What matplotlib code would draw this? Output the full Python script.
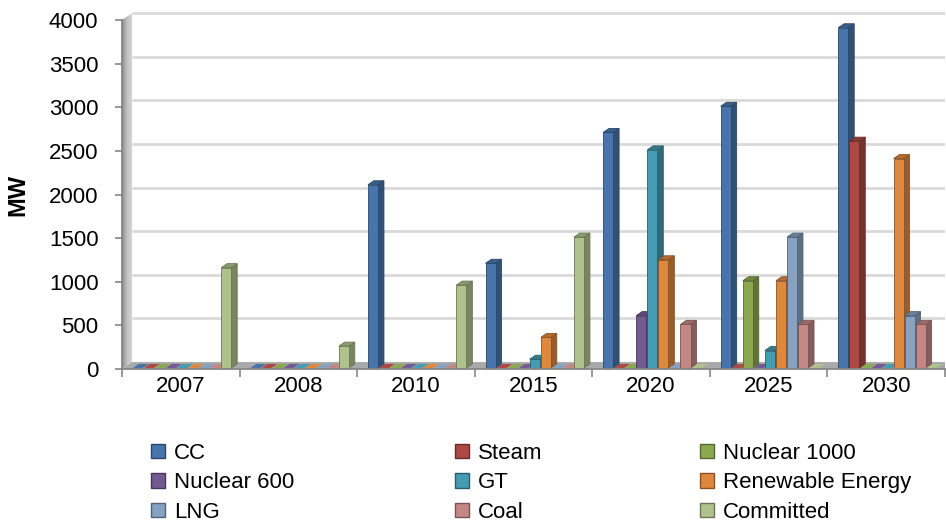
import numpy as np
import matplotlib
matplotlib.use("Agg")
import matplotlib.pyplot as plt
from matplotlib.patches import Polygon, Patch
from matplotlib.colors import to_rgb, LinearSegmentedColormap

years = ["2007", "2008", "2010", "2015", "2020", "2025", "2030"]
series = ["CC", "Steam", "Nuclear 1000", "Nuclear 600", "GT",
          "Renewable Energy", "LNG", "Coal", "Committed"]

cc = [0, 0, 2100, 1200, 2700, 3000, 3900]
steam = [0, 0, 0, 0, 0, 0, 2600]
nuclear_1000 = [0, 0, 0, 0, 0, 1000, 0]
nuclear_600 = [0, 0, 0, 0, 600, 0, 0]
gt = [0, 0, 0, 100, 2500, 200, 0]
renewable = [0, 0, 0, 350, 1240, 1000, 2400]
lng = [0, 0, 0, 0, 0, 1500, 600]
coal = [0, 0, 0, 0, 500, 500, 500]
committed = [1150, 250, 950, 1500, 0, 0, 0]

values = [cc, steam, nuclear_1000, nuclear_600, gt, renewable, lng, coal, committed]
colors = ["#4F81BD", "#C0504D", "#9BBB59", "#8064A2", "#4BACC6",
          "#F79646", "#95B3D7", "#D99694", "#C3D69B"]


def shade(c, f):
    r, g, b = to_rgb(c)
    return (r * f, g * f, b * f)


# pseudo-3d geometry, in data units (x: categories, y: MW)
SLOT = 0.094       # spacing between bars of one category
START = 0.092      # left edge of the first bar inside a category
BAR_W = 0.086      # front face width
DX, DY = 0.05, 46      # bar depth projection
BY = 12                # bars stand a bit behind the front edge
WALL_DX, WALL_DY = 0.0855, 80   # depth of the walls / floor
YMAX = 4000

fig = plt.figure(figsize=(9.46, 5.22), dpi=100)
ax = fig.add_axes([122 / 946, 153 / 522, 823 / 946, 362 / 522])
ax.set_xlim(0, 7)
ax.set_ylim(0, 4150)

# back wall gridlines
for v in range(500, YMAX + 1, 500):
    ax.plot([WALL_DX, 7 + WALL_DX], [v + WALL_DY] * 2,
            color="#d9d9d9", lw=2, zorder=1, solid_capstyle="butt")

# left wall with a grey gradient
wall = Polygon([(0, 0), (0, YMAX), (WALL_DX, YMAX + WALL_DY), (WALL_DX, WALL_DY)],
               closed=True, facecolor="none", edgecolor="none")
ax.add_patch(wall)
grad = np.linspace(0.0, 1.0, 64).reshape(1, -1)
img = ax.imshow(grad, cmap=LinearSegmentedColormap.from_list(
    "wall", ["#8f8f8f", "#c4c4c4", "#d8d8d8"]),
    extent=(0, WALL_DX, 0, YMAX + WALL_DY), aspect="auto", zorder=2)
img.set_clip_path(wall)

# floor
ax.add_patch(Polygon([(0, 0), (7, 0), (7 + WALL_DX, WALL_DY), (WALL_DX, WALL_DY)],
                     closed=True, facecolor="#a9a9a9", edgecolor="none", zorder=2))

z = 3
for i in range(len(years)):
    for j, vals in enumerate(values):
        h = vals[i]
        base = colors[j]
        x0 = i + START + j * SLOT
        y0 = BY
        edge = shade(base, 0.55)
        top = [(x0, y0 + h), (x0 + BAR_W, y0 + h),
               (x0 + BAR_W + DX, y0 + h + DY), (x0 + DX, y0 + h + DY)]
        if h == 0:
            ax.add_patch(Polygon(top, closed=True, facecolor=shade(base, 0.9),
                                 edgecolor="none", zorder=z))
            z += 1
            continue
        side = [(x0 + BAR_W, y0), (x0 + BAR_W + DX, y0 + DY),
                (x0 + BAR_W + DX, y0 + h + DY), (x0 + BAR_W, y0 + h)]
        front = [(x0, y0), (x0 + BAR_W, y0), (x0 + BAR_W, y0 + h), (x0, y0 + h)]
        ax.add_patch(Polygon(side, closed=True, facecolor=shade(base, 0.62),
                             edgecolor=edge, lw=0.6, zorder=z))
        ax.add_patch(Polygon(front, closed=True, facecolor=shade(base, 0.9),
                             edgecolor=edge, lw=0.6, zorder=z + 1))
        ax.add_patch(Polygon(top, closed=True, facecolor=shade(base, 0.72),
                             edgecolor=edge, lw=0.6, zorder=z + 2))
        z += 3

# axes styling
for s in ("top", "right"):
    ax.spines[s].set_visible(False)
ax.spines["left"].set_bounds(0, YMAX)
ax.spines["bottom"].set_bounds(0, 7)
for s in ("left", "bottom"):
    ax.spines[s].set_color("#868686")
    ax.spines[s].set_linewidth(1.3)
    ax.spines[s].set_zorder(200)

ax.set_yticks(range(0, YMAX + 1, 500))
ax.tick_params(axis="y", length=5, width=1.2, color="#868686",
               labelsize=16, pad=12)
ax.set_xticks(np.arange(7) + 0.5, years)
ax.set_xticks(np.arange(8), minor=True)
ax.tick_params(axis="x", which="major", length=0, labelsize=16, pad=5)
ax.tick_params(axis="x", which="minor", length=6, width=1.2, color="#868686")
for lab in ax.get_xticklabels() + ax.get_yticklabels():
    lab.set_fontfamily("Liberation Sans")

fig.text(18 / 946, 1 - 195 / 522, "MW", rotation=90, ha="center", va="center",
         fontsize=17, fontweight="bold", family="Liberation Sans")

# legend in three columns, filled row by row
handles = [Patch(facecolor=shade(c, 0.9), edgecolor=shade(c, 0.55), lw=1)
           for c in colors]
col_x = [151, 455, 700]
for k in range(3):
    idx = [k, k + 3, k + 6]
    fig.legend([handles[n] for n in idx], [series[n] for n in idx],
               loc="upper left", bbox_to_anchor=(col_x[k] / 946, 1 - 443 / 522),
               frameon=False, borderpad=0, borderaxespad=0,
               handlelength=0.62, handleheight=0.62, handletextpad=0.4,
               labelspacing=0.38, prop={"family": "Liberation Sans", "size": 16})

fig.savefig("out.png", dpi=100)
